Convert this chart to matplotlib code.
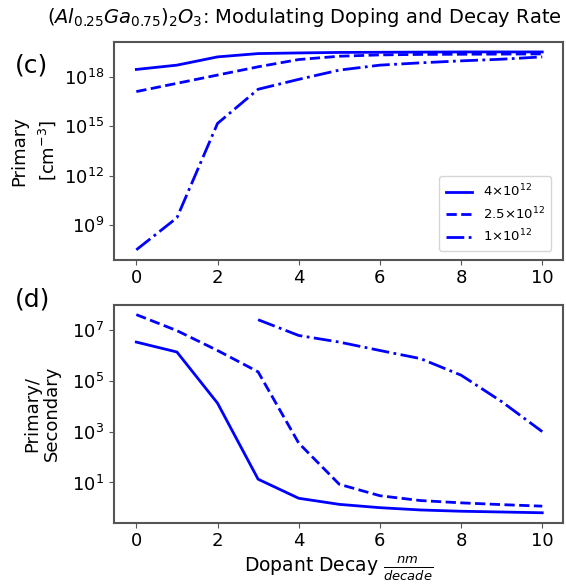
import matplotlib
matplotlib.use('Agg')
import matplotlib.pyplot as plt
import matplotlib.ticker as ticker
import numpy as np

decay = np.arange(0, 11)
labels = [r'$4{\times}10^{12}$', r'$2.5{\times}10^{12}$', r'$1{\times}10^{12}$']

# (c) primary concentration, log10 values
prim_4 = [18.44, 18.70, 19.20, 19.40, 19.44, 19.47, 19.48, 19.49, 19.50, 19.50, 19.50]
prim_25 = [17.10, 17.60, 18.10, 18.60, 19.04, 19.24, 19.32, 19.35, 19.36, 19.37, 19.38]
prim_1 = [7.52, 9.46, 15.17, 17.24, 17.84, 18.40, 18.70, 18.84, 18.96, 19.06, 19.20]

# (d) primary/secondary ratio, log10 values
ratio_4 = [6.52, 6.13, 4.12, 1.13, 0.38, 0.14, 0.01, -0.08, -0.13, -0.16, -0.19]
ratio_25 = [7.60, 6.97, 6.19, 5.35, 2.55, 0.93, 0.48, 0.29, 0.20, 0.13, 0.07]
ratio_1_x = np.arange(3, 11)
ratio_1 = [7.40, 6.78, 6.52, 6.19, 5.87, 5.22, 4.18, 3.00]

styles = ['-', '--', '-.']
col = 'blue'
spine_col = '#555555'
fsz = 13

fig = plt.figure(figsize=(5.66, 5.88), dpi=100, facecolor='w')
plt.rcParams['font.size'] = fsz

ax1 = fig.add_axes([0.2014, 0.5583, 0.7925, 0.3702])
ax2 = fig.add_axes([0.2014, 0.1111, 0.7925, 0.3707])

for ys, ls, lab in zip([prim_4, prim_25, prim_1], styles, labels):
    ax1.plot(decay, 10.0 ** np.array(ys), color=col, ls=ls, lw=2, label=lab)
ax1.set_yscale('log')
ax1.yaxis.set_major_locator(ticker.FixedLocator([1e9, 1e12, 1e15, 1e18]))
ax1.yaxis.set_minor_locator(ticker.NullLocator())
ax1.set_xticks([0, 2, 4, 6, 8, 10])
ax1.set_ylabel('Primary\n[cm$^{-3}$]', fontsize=fsz, labelpad=4, linespacing=1.5)
leg = ax1.legend(loc='lower right', fontsize=9.5, handlelength=2.0, borderpad=0.5,
                 labelspacing=0.45, bbox_to_anchor=(0.99, 0.01))

ax2.plot(decay, 10.0 ** np.array(ratio_4), color=col, ls='-', lw=2)
ax2.plot(decay, 10.0 ** np.array(ratio_25), color=col, ls='--', lw=2)
ax2.plot(ratio_1_x, 10.0 ** np.array(ratio_1), color=col, ls='-.', lw=2)
ax2.set_yscale('log')
ax2.yaxis.set_major_locator(ticker.FixedLocator([1e1, 1e3, 1e5, 1e7]))
ax2.yaxis.set_minor_locator(ticker.NullLocator())
ax2.set_xticks([0, 2, 4, 6, 8, 10])
ax2.set_ylabel('Primary/\nSecondary', fontsize=fsz, labelpad=8, linespacing=1.1)
ax2.set_xlabel(r'Dopant Decay $\frac{nm}{decade}$', fontsize=fsz + 0.5, labelpad=3)

for ax in (ax1, ax2):
    ax.set_xlim(-0.55, 10.5)
    for s in ax.spines.values():
        s.set_color(spine_col)
        s.set_linewidth(1.5)
    ax.tick_params(color=spine_col, labelsize=fsz)

fig.text(0.537, 0.971, r'$(Al_{0.25}Ga_{0.75})_2O_3$: Modulating Doping and Decay Rate',
         ha='center', va='center', fontsize=14)
fig.text(0.026, 0.888, '(c)', fontsize=18, va='center')
fig.text(0.026, 0.49, '(d)', fontsize=18, va='center')

fig.savefig('out.png', dpi=100)
